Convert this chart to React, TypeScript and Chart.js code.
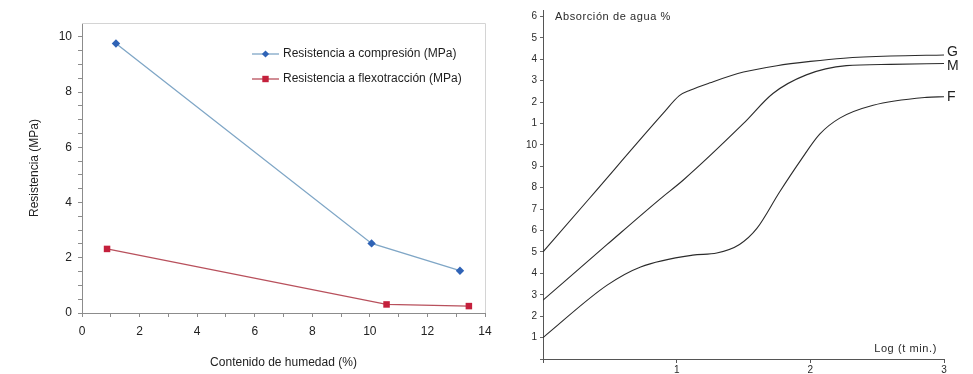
import React, { useEffect, useRef } from "react";
import { Chart, registerables } from "chart.js";
Chart.register(...registerables);

// ---------- Left chart data ----------
const COMP_LABEL = "Resistencia a compresión (MPa)";
const COMP_HUMEDAD = [1.18, 10.06, 13.13];
const COMP_MPA = [9.76, 2.52, 1.53];
const FLEX_LABEL = "Resistencia a flexotracción (MPa)";
const FLEX_HUMEDAD = [0.87, 10.58, 13.44];
const FLEX_MPA = [2.32, 0.31, 0.25];
const LEFT_X_TICKS = [0, 1, 2, 3, 4, 5, 6, 7, 8, 9, 10, 11, 12, 13, 14];
const LEFT_X_LABELS = [0, 2, 4, 6, 8, 10, 12, 14];
const LEFT_Y_TICKS = [0, 0.5, 1, 1.5, 2, 2.5, 3, 3.5, 4, 4.5, 5, 5.5, 6, 6.5, 7, 7.5, 8, 8.5, 9, 9.5, 10];
const LEFT_Y_LABELS = [0, 2, 4, 6, 8, 10];

// ---------- Right chart data ----------
const G_LOGT = [0, 0.35, 0.9, 1.02, 1.1, 1.25, 1.5, 1.75, 2.0, 2.25, 2.6, 3.0];
const G_ABS = [5.0, 7.52, 11.48, 12.3, 12.55, 12.9, 13.4, 13.7, 13.9, 14.05, 14.15, 14.2];
const M_LOGT = [0, 0.48, 0.875, 1.05, 1.5, 1.72, 1.97, 2.27, 2.6, 3.0];
const M_ABS = [2.75, 5.35, 7.47, 8.36, 11.0, 12.4, 13.27, 13.7, 13.76, 13.8];
const F_LOGT = [0, 0.48, 0.73, 1.12, 1.3, 1.47, 1.6, 1.77, 1.93, 2.07, 2.22, 2.47, 2.87, 3.0];
const F_ABS = [1.0, 3.45, 4.3, 4.85, 4.95, 5.35, 6.1, 7.8, 9.3, 10.5, 11.25, 11.85, 12.22, 12.25];
const CURVE_NAMES = ["G", "M", "F"];
const RIGHT_X_TICKS = [0, 1, 2, 3];
const RIGHT_X_LABELS = ["", "1", "2", "3"];
const RIGHT_Y_TICKS = [0, 1, 2, 3, 4, 5, 6, 7, 8, 9, 10, 11, 12, 13, 14, 15, 16];
const RIGHT_Y_LABELS = ["", "1", "2", "3", "4", "5", "6", "7", "8", "9", "10", "1", "2", "3", "4", "5", "6"];
const RIGHT_Y_TITLE = "Absorción de agua %";
const RIGHT_X_TITLE = "Log (t min.)";

const FONT = "'Liberation Sans', Arial, sans-serif";

const leftPlugin = {
  id: "leftDecor",
  beforeDatasetsDraw(chart: any) {
    const { ctx, chartArea } = chart;
    ctx.save();
    ctx.strokeStyle = "#d4d4d4";
    ctx.lineWidth = 1;
    ctx.beginPath();
    ctx.moveTo(chartArea.left, chartArea.top + 0.5);
    ctx.lineTo(chartArea.right + 0.5, chartArea.top + 0.5);
    ctx.lineTo(chartArea.right + 0.5, chartArea.bottom);
    ctx.stroke();
    ctx.restore();
  },
  afterDraw(chart: any) {
    const { ctx } = chart;
    ctx.save();
    chart.data.datasets.forEach((ds: any, i: number) => {
      const y = 54 + i * 25;
      ctx.strokeStyle = ds.borderColor;
      ctx.lineWidth = 1.3;
      ctx.beginPath();
      ctx.moveTo(252, y);
      ctx.lineTo(279, y);
      ctx.stroke();
      ctx.fillStyle = ds.pointBackgroundColor;
      ctx.beginPath();
      if (ds.pointStyle === "rectRot") {
        ctx.moveTo(265.5, y - 3.6);
        ctx.lineTo(269.1, y);
        ctx.lineTo(265.5, y + 3.6);
        ctx.lineTo(261.9, y);
        ctx.closePath();
      } else {
        ctx.rect(262.3, y - 3.2, 6.4, 6.4);
      }
      ctx.fill();
      ctx.fillStyle = "#1e1e1e";
      ctx.font = `12px ${FONT}`;
      ctx.textBaseline = "middle";
      ctx.textAlign = "left";
      ctx.fillText(ds.label, 283, y);
    });
    ctx.restore();
  },
};

const LABEL_SHIFT = [-2.5, 2.5, 0];

const rightPlugin = {
  id: "rightDecor",
  afterDraw(chart: any) {
    const { ctx, chartArea, scales } = chart;
    ctx.save();
    ctx.fillStyle = "#2a2a2a";
    ctx.textBaseline = "middle";
    ctx.font = `11px ${FONT}`;
    (ctx as any).letterSpacing = "0.6px";
    ctx.textAlign = "left";
    ctx.fillText(RIGHT_Y_TITLE, 55, 17);
    ctx.textAlign = "right";
    ctx.fillText(RIGHT_X_TITLE, 437, 349);
    (ctx as any).letterSpacing = "0px";
    ctx.font = `14px ${FONT}`;
    ctx.textAlign = "left";
    chart.data.datasets.forEach((ds: any, i: number) => {
      const last = ds.data[ds.data.length - 1];
      const y = scales.y.getPixelForValue(last.y);
      ctx.fillStyle = "#222";
      ctx.fillText(CURVE_NAMES[i], chartArea.right + 3, y + LABEL_SHIFT[i]);
    });
    ctx.restore();
  },
};

function LeftChart() {
  const ref = useRef<HTMLCanvasElement>(null);
  useEffect(() => {
    const chart = new Chart(ref.current!, {
      type: "line",
      data: {
        datasets: [
          {
            label: COMP_LABEL,
            data: COMP_HUMEDAD.map((x, i) => ({ x, y: COMP_MPA[i] })),
            borderColor: "#7fa6c6",
            borderWidth: 1.3,
            pointStyle: "rectRot",
            pointRadius: 4.2,
            pointBackgroundColor: "#2f63b6",
            pointBorderColor: "#2f63b6",
            pointBorderWidth: 0,
            tension: 0,
          },
          {
            label: FLEX_LABEL,
            data: FLEX_HUMEDAD.map((x, i) => ({ x, y: FLEX_MPA[i] })),
            borderColor: "#b8505c",
            borderWidth: 1.3,
            pointStyle: "rect",
            pointRadius: 4.6,
            pointBackgroundColor: "#c4203c",
            pointBorderColor: "#c4203c",
            pointBorderWidth: 0,
            tension: 0,
          },
        ] as any,
      },
      options: {
        responsive: false,
        animation: false,
        layout: { padding: { left: 0, right: 15, top: 23, bottom: 0 } },
        plugins: { legend: { display: false }, tooltip: { enabled: false } },
        scales: {
          x: {
            type: "linear",
            min: 0,
            max: 14,
            afterBuildTicks: (s: any) => {
              s.ticks = LEFT_X_TICKS.map((v) => ({ value: v }));
            },
            afterFit: (s: any) => {
              s.height = 61;
            },
            ticks: {
              autoSkip: false,
              maxRotation: 0,
              padding: 7,
              color: "#222",
              font: { family: FONT, size: 12 },
              callback: (v: any) => (LEFT_X_LABELS.includes(v) ? String(v) : ""),
            },
            grid: { drawOnChartArea: false, tickLength: 4, color: "#8c8c8c" },
            border: { color: "#8c8c8c" },
            title: {
              display: true,
              text: "Contenido de humedad (%)",
              color: "#222",
              font: { family: FONT, size: 12 },
              padding: { top: 0, bottom: 4 },
            },
          },
          y: {
            type: "linear",
            min: 0,
            max: 10.5,
            afterBuildTicks: (s: any) => {
              s.ticks = LEFT_Y_TICKS.map((v) => ({ value: v }));
            },
            afterFit: (s: any) => {
              s.width = 82;
            },
            ticks: {
              autoSkip: false,
              padding: 6,
              color: "#222",
              font: { family: FONT, size: 12 },
              callback: (v: any) => (LEFT_Y_LABELS.includes(v) ? String(v) : ""),
            },
            grid: { drawOnChartArea: false, tickLength: 4, color: "#8c8c8c" },
            border: { color: "#8c8c8c" },
            title: {
              display: true,
              text: "Resistencia (MPa)",
              color: "#222",
              font: { family: FONT, size: 12 },
              padding: { top: 27, bottom: 0 },
            },
          },
        },
      } as any,
      plugins: [leftPlugin],
    });
    return () => chart.destroy();
  }, []);
  return <canvas ref={ref} width={500} height={374} style={{ width: 500, height: 374, display: "block" }} />;
}

function RightChart() {
  const ref = useRef<HTMLCanvasElement>(null);
  useEffect(() => {
    const mk = (xs: number[], ys: number[]) => xs.map((x, i) => ({ x, y: ys[i] }));
    const common = {
      borderColor: "#2b2b2b",
      borderWidth: 1.1,
      pointRadius: 0,
      cubicInterpolationMode: "monotone",
      fill: false,
    };
    const chart = new Chart(ref.current!, {
      type: "line",
      data: {
        datasets: [
          { label: CURVE_NAMES[0], data: mk(G_LOGT, G_ABS), ...common },
          { label: CURVE_NAMES[1], data: mk(M_LOGT, M_ABS), ...common },
          { label: CURVE_NAMES[2], data: mk(F_LOGT, F_ABS), ...common },
        ] as any,
      },
      options: {
        responsive: false,
        animation: false,
        layout: { padding: { left: 0, right: 29, top: 10, bottom: 0 } },
        plugins: { legend: { display: false }, tooltip: { enabled: false } },
        scales: {
          x: {
            type: "linear",
            min: 0,
            max: 3,
            afterBuildTicks: (s: any) => {
              s.ticks = RIGHT_X_TICKS.map((v) => ({ value: v }));
            },
            afterFit: (s: any) => {
              s.height = 15;
            },
            ticks: {
              autoSkip: false,
              maxRotation: 0,
              padding: 1,
              color: "#2a2a2a",
              font: { family: FONT, size: 10 },
              callback: (v: any) => RIGHT_X_LABELS[RIGHT_X_TICKS.indexOf(v)] ?? "",
            },
            grid: { drawOnChartArea: false, tickLength: 4, color: "#555" },
            border: { color: "#555", width: 1 },
          },
          y: {
            type: "linear",
            min: 0,
            max: 16.3,
            afterBuildTicks: (s: any) => {
              s.ticks = RIGHT_Y_TICKS.map((v) => ({ value: v }));
            },
            afterFit: (s: any) => {
              s.width = 43;
            },
            ticks: {
              autoSkip: false,
              padding: 3,
              color: "#2a2a2a",
              font: { family: FONT, size: 10 },
              callback: (v: any) => RIGHT_Y_LABELS[RIGHT_Y_TICKS.indexOf(v)] ?? "",
            },
            grid: { drawOnChartArea: false, tickLength: 3, color: "#666" },
            border: { color: "#555", width: 1 },
          },
        },
      } as any,
      plugins: [rightPlugin],
    });
    return () => chart.destroy();
  }, []);
  return <canvas ref={ref} width={473} height={374} style={{ width: 473, height: 374, display: "block" }} />;
}

export default function App() {
  return (
    <div style={{ position: "fixed", left: 0, top: 0, width: 973, height: 374, background: "#fff", overflow: "hidden" }}>
      <div style={{ position: "absolute", left: 0, top: 0 }}>
        <LeftChart />
      </div>
      <div style={{ position: "absolute", left: 500, top: 0 }}>
        <RightChart />
      </div>
    </div>
  );
}
